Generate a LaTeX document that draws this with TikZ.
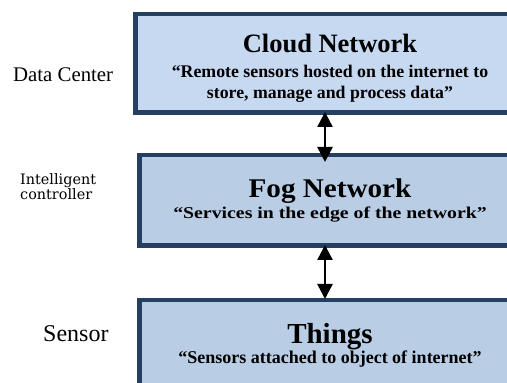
\documentclass[tikz,border=0pt]{standalone}
\usepackage{fontspec}
\setmainfont{Liberation Serif}
\newfontfamily\labelfont{DejaVu Serif}
\usetikzlibrary{arrows.meta, positioning}

\definecolor{layerline}{HTML}{253F60}
\definecolor{cloudfill}{HTML}{C6D9F0}
\definecolor{layerfill}{HTML}{B9CDE5}

\begin{document}
\begin{tikzpicture}[
x=1pt, y=1pt,
layer/.style={rectangle, draw=layerline, line width=4.5pt, fill=layerfill, align=center, font=\bfseries, inner sep=0pt},
side/.style={anchor=base west, align=left, inner sep=0pt},
arrow/.style={{Triangle[width=15pt, length=15pt]}-{Triangle[width=15pt, length=15pt]}, line width=2.5pt}
]
\clip (0,0) rectangle (507,383);

% three layers, top to bottom
\node[layer, fill=cloudfill, minimum width=389.5pt, minimum height=98.5pt,
      font=\bfseries\fontsize{17.8}{21}\selectfont] (cloud) at (330,319.5)
  {\rule{0pt}{27pt}{\fontsize{26.5}{30}\selectfont Cloud Network}\\[4pt]
   “Remote sensors hosted on the internet to\\
   store, manage and process data”};
\node[layer, minimum width=381.5pt, minimum height=90.5pt, below=38pt of cloud,
      font=\bfseries\fontsize{16.5}{20.5}\selectfont] (fog)
  {\scalebox{1.08}[1]{\fontsize{27}{30}\selectfont Fog Network}\\
   \scalebox{1.2}[1]{“Services in the edge of the network”}};
\node[layer, minimum width=381.5pt, minimum height=90.5pt, below=50pt of fog,
      font=\bfseries\fontsize{18}{18}\selectfont] (things)
  {{\fontsize{29}{32}\selectfont Things}\\
   “Sensors attached to object of internet”};

% names on the left
\node[side, font=\rmfamily\fontsize{20.8}{24}\selectfont] (center) at (13,301) {Data Center};
\node[side, font=\labelfont\fontsize{14.4}{15}\selectfont] (ctrl) at (20,183) {Intelligent\\controller};
\node[side, font=\rmfamily\fontsize{24}{28}\selectfont] (sensor) at (43,41) {Sensor};

\draw[arrow, shorten <=-3pt, shorten >=-9pt] ([xshift=-5pt]cloud.south) -- ([xshift=-5pt]fog.north);
\draw[arrow, shorten <=-3pt, shorten >=-1pt] ([xshift=-5pt]fog.south) -- ([xshift=-5pt]things.north);
\end{tikzpicture}
\end{document}
